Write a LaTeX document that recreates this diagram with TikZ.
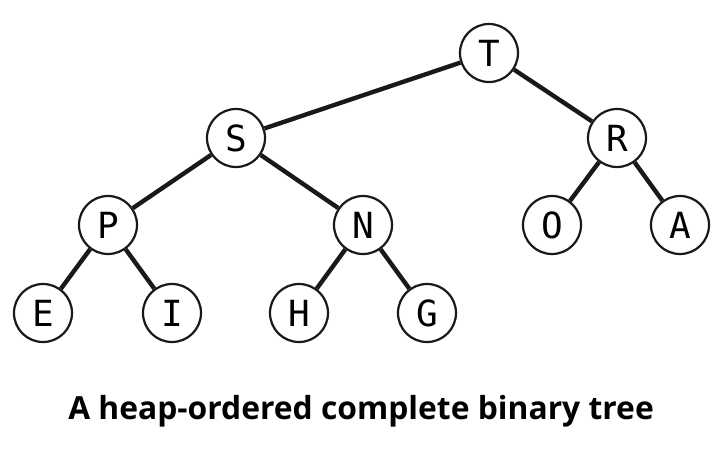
\documentclass[tikz,border=0pt]{standalone}
\usepackage{fontspec}
\setmainfont{Open Sans}
\newfontfamily\nodefont{DejaVu Sans Mono}
\begin{document}
\begin{tikzpicture}[x=1pt,y=-1pt,
  hnode/.style={circle,draw=black!90,line width=2.2pt,fill=white,minimum size=58pt,inner sep=0pt,font=\nodefont\fontsize{36}{36}\selectfont},
  hedge/.style={line width=4.4pt,draw=black!90}]
\useasboundingbox (0,0) rectangle (728,450);
\node[hnode] (T) at (489,53) {T};
\node[hnode] (S) at (236,138) {S};
\node[hnode] (R) at (617,138) {R};
\node[hnode] (P) at (108,225) {P};
\node[hnode] (N) at (363,225) {N};
\node[hnode] (O) at (552,225) {O};
\node[hnode] (A) at (680,225) {A};
\node[hnode] (E) at (43,313) {E};
\node[hnode] (I) at (172,313) {I};
\node[hnode] (H) at (299,313) {H};
\node[hnode] (G) at (427,313) {G};
\foreach \a/\b in {T/S,T/R,S/P,S/N,R/O,R/A,P/E,P/I,N/H,N/G}
  \draw[hedge] (\a) -- (\b);
\node[font=\bfseries\fontsize{31.8}{32}\selectfont,anchor=base,inner sep=0pt] (cap) at (361,419) {A heap-ordered complete binary tree};
\end{tikzpicture}
\end{document}
